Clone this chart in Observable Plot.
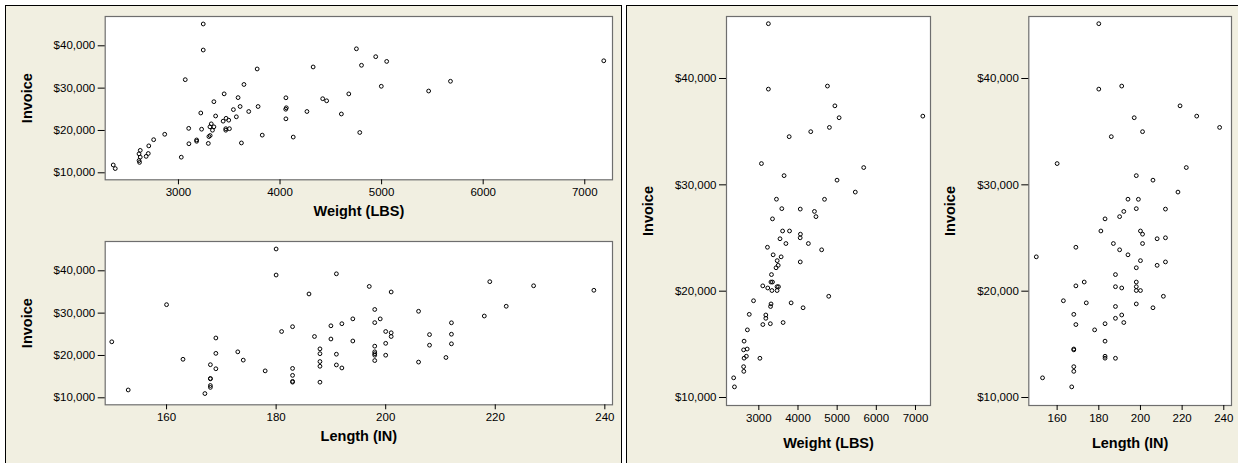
<!DOCTYPE html>
<html><head><meta charset="utf-8">
<script src="https://cdn.jsdelivr.net/npm/d3@7"></script>
<script src="https://cdn.jsdelivr.net/npm/@observablehq/plot@0.6"></script>
<style>
html,body{margin:0;padding:0;background:#fff;}
#root{position:relative;width:1238px;height:463px;overflow:hidden;background:#fff;font-family:"Liberation Sans",Arial,sans-serif;}
.panel{position:absolute;background:#F1EFE1;border:1px solid #000;box-sizing:border-box;}
.chart{position:absolute;}
</style></head><body><div id="root">
<div class="panel" style="left:5px;top:5px;width:617px;height:470px"></div>
<div class="panel" style="left:626px;top:5px;width:620px;height:470px"></div>
</div>
<script>
const invoice = [45155,39003,39290,37430,36312,36463,35400,35000,34530,32000,31625,30865,30440,29320,28650,28640,27760,27720,27500,27010,26800,25660,25660,25360,25020,24930,24480,24480,24130,23890,23420,23230,22870,22750,22430,22200,21560,20860,20860,20500,20300,20420,20420,20060,20060,19100,18800,18560,18900,18440,19520,17820,17760,17450,16860,16940,17050,16360,15300,14480,14560,13700,13880,13690,12900,12460,11850,11000];
const weight = [3244,3244,4752,4942,5050,7187,4802,4326,3775,3067,5678,3645,4997,5463,3450,4677,3587,4058,4420,4459,3349,3607,3784,4062,4056,3541,3692,4265,3220,4604,3366,3570,3469,4058,3495,3440,3323,3310,3349,3101,3228,3466,3502,3335,3466,2865,3312,3300,3825,4130,4785,2756,3179,3179,3103,3294,3620,2708,2624,2612,2703,2624,2682,3028,2612,2617,2358,2378];
const length = [180,180,191,219,197,227,238,201,186,160,222,198,206,218,194,199,198,212,192,190,183,181,200,201,212,208,187,201,169,190,194,150,200,212,208,198,188,173,198,169,191,188,198,198,200,163,198,188,174,206,211,168,191,188,169,183,192,178,183,168,168,183,183,188,168,168,153,167];
const invoiceTicks = [10000,20000,30000,40000];
const weightTicks = [3000,4000,5000,6000,7000];
const lengthTicks = [160,180,200,220,240];
const yLabel = "Invoice";
const weightLabel = "Weight (LBS)";
const lengthLabel = "Length (IN)";

const cars = invoice.map((v,i)=>({invoice:v, weight:weight[i], length:length[i]}));
const FONT = '"Liberation Sans", Arial, sans-serif';

function scatter(o) {
  return Plot.plot({
    width:o.width, height:o.height,
    marginLeft:o.mL, marginRight:o.mR, marginTop:o.mT, marginBottom:o.mB,
    style:{background:"transparent", fontFamily:FONT, fontSize:"11.5px", color:"#000", overflow:"visible"},
    x:{domain:o.xDomain}, y:{domain:o.yDomain},
    marks:[
      Plot.frame({fill:"#fff", stroke:"#6e6e6e", strokeWidth:1.2}),
      Plot.axisY({ticks:invoiceTicks, tickFormat:d3.format("$,"), tickSize:7, tickPadding:3, label:null}),
      Plot.axisX({ticks:o.xTicks, tickFormat:d=>String(d), tickSize:5, tickPadding:3, label:null}),
      Plot.dot(cars,{x:o.x, y:"invoice", r:1.9, stroke:"#000", strokeWidth:1, fill:"none"}),
      Plot.text([yLabel],{text:d=>d, frameAnchor:"left", dx:-78, rotate:-90, textAnchor:"middle", lineAnchor:"middle", fontSize:14.5, fontWeight:"bold"}),
      Plot.text([o.xLabel],{text:d=>d, frameAnchor:"bottom", dy:o.titleDy, textAnchor:"middle", lineAnchor:"middle", fontSize:14.5, fontWeight:"bold"})
    ]
  });
}

const specs = [
  {left:0, top:0, width:622, height:232, mL:104.7, mR:10, mT:16, mB:52.7, x:"weight", xDomain:[2279,7273], yDomain:[8346,46924], xTicks:weightTicks, xLabel:weightLabel, titleDy:31.7},
  {left:0, top:225, width:622, height:238, mL:104.7, mR:10, mT:16, mB:58.7, x:"length", xDomain:[148.8,241.4], yDomain:[8346,46924], xTicks:lengthTicks, xLabel:lengthLabel, titleDy:31.7},
  {left:626, top:0, width:310, height:463, mL:100, mR:6, mT:16, mB:58, x:"weight", xDomain:[2175,7383], yDomain:[9248,45832], xTicks:weightTicks, xLabel:weightLabel, titleDy:38.3},
  {left:936, top:0, width:302, height:463, mL:92.3, mR:7, mT:16, mB:58, x:"length", xDomain:[146.4,243.7], yDomain:[9248,45832], xTicks:lengthTicks, xLabel:lengthLabel, titleDy:38.3}
];
const root = document.getElementById("root");
for (const s of specs) {
  const svg = scatter(s);
  svg.classList.add("chart");
  svg.style.left = s.left + "px";
  svg.style.top = s.top + "px";
  root.appendChild(svg);
}
</script></body></html>
